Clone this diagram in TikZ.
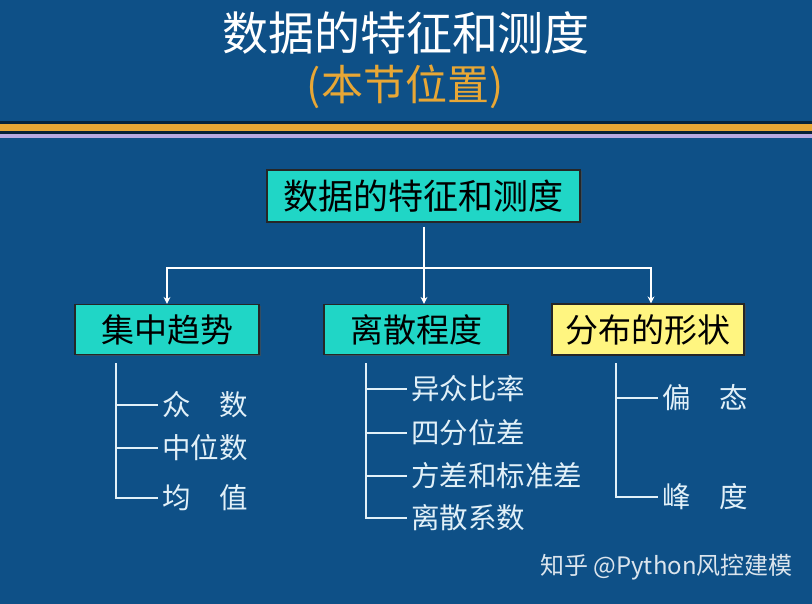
\documentclass[tikz,border=0pt]{standalone}
\usepackage{fontspec}
\setmainfont{Noto Sans CJK SC}
\usetikzlibrary{arrows.meta,shadows}
\definecolor{bgblue}{RGB}{14,80,135}
\definecolor{orng}{RGB}{232,167,53}
\definecolor{lilac}{RGB}{184,168,224}
\definecolor{teal1}{RGB}{32,214,198}
\definecolor{yell}{RGB}{255,245,128}
\definecolor{leafc}{RGB}{225,240,248}
\tikzset{
  boxs/.style={draw=black!85, line width=1.2pt, inner sep=0pt, anchor=center,
    drop shadow={shadow xshift=1.5pt,shadow yshift=-1.5pt,fill=black!70,opacity=0.6}},
  conn/.style={draw=white, line width=2.4pt, -{Stealth[length=7pt,width=7pt]}},
  treeline/.style={draw=leafc, line width=2.8pt},
  leaf/.style={anchor=west, inner sep=0pt, text=leafc, font=\fontsize{28.5}{30}\selectfont}
}
\begin{document}
\begin{tikzpicture}[x=1pt,y=-1pt]
\fill[bgblue] (0,0) rectangle (812,604);
\useasboundingbox (0,0) rectangle (812,604);
% title
\node[text=white, font=\fontsize{46}{50}\selectfont] (title) at (406,33) {数据的特征和测度};
\node[text=orng, font=\fontsize{42}{46}\selectfont] (sub) at (405,87) {(本节位置)};
% bands
\fill[black!55!bgblue] (0,121.5) rectangle (812,124);
\fill[orng] (0,124) rectangle (812,131);
\fill[black!60!bgblue] (0,131) rectangle (812,134);
\fill[lilac] (0,134) rectangle (812,138);
% boxes
\node[boxs, fill=teal1, minimum width=313pt, minimum height=52pt, font=\fontsize{35}{38}\selectfont] (top) at (423.5,196) {数据的特征和测度};
\node[boxs, fill=teal1, minimum width=184pt, minimum height=50pt, font=\fontsize{33}{36}\selectfont] (left) at (167,329.5) {集中趋势};
\node[boxs, fill=teal1, minimum width=184pt, minimum height=50pt, font=\fontsize{33}{36}\selectfont] (mid) at (416,329.5) {离散程度};
\node[boxs, fill=yell, minimum width=192pt, minimum height=51pt, font=\fontsize{33}{36}\selectfont] (right) at (648,329.5) {分布的形状};
% connectors
\coordinate (j) at (424,268);
\draw[draw=white, line width=2.4pt, shorten <=4pt] (top.south -| j) -- (j);
\draw[conn] (j) -- (mid.north -| j);
\draw[conn] (j) -| (left.north);
\draw[conn] (j) -| ([xshift=3pt]right.north);
% left tree
\node[leaf] (a1) at (162,405) {众\hspace{1em}数};
\node[leaf] (a2) at (162,448) {中位数};
\node[leaf] (a3) at (162,498) {均\hspace{1em}值};
\coordinate (lt) at (116,363);
\draw[treeline] (lt) |- ([xshift=-4pt]a3.west);
\draw[treeline] (lt |- a1.west) -- ([xshift=-4pt]a1.west);
\draw[treeline] (lt |- a2.west) -- ([xshift=-4pt]a2.west);
% middle tree
\node[leaf] (b1) at (411,389) {异众比率};
\node[leaf] (b2) at (411,433) {四分位差};
\node[leaf] (b3) at (411,476) {方差和标准差};
\node[leaf] (b4) at (411,518) {离散系数};
\coordinate (mt) at (366,363);
\draw[treeline] (mt) |- ([xshift=-4pt]b4.west);
\draw[treeline] (mt |- b1.west) -- ([xshift=-4pt]b1.west);
\draw[treeline] (mt |- b2.west) -- ([xshift=-4pt]b2.west);
\draw[treeline] (mt |- b3.west) -- ([xshift=-4pt]b3.west);
% right tree
\node[leaf] (c1) at (662,398) {偏\hspace{1em}态};
\node[leaf] (c2) at (662,497) {峰\hspace{1em}度};
\coordinate (rt) at (616,363);
\draw[treeline] (rt) |- ([xshift=-4pt]c2.west);
\draw[treeline] (rt |- c1.west) -- ([xshift=-4pt]c1.west);
% watermark
\node[anchor=west, inner sep=0pt, text=white, opacity=0.85, font=\fontsize{24}{26}\selectfont] (wm) at (540,567) {知乎 @Python风控建模};
\end{tikzpicture}
\end{document}
